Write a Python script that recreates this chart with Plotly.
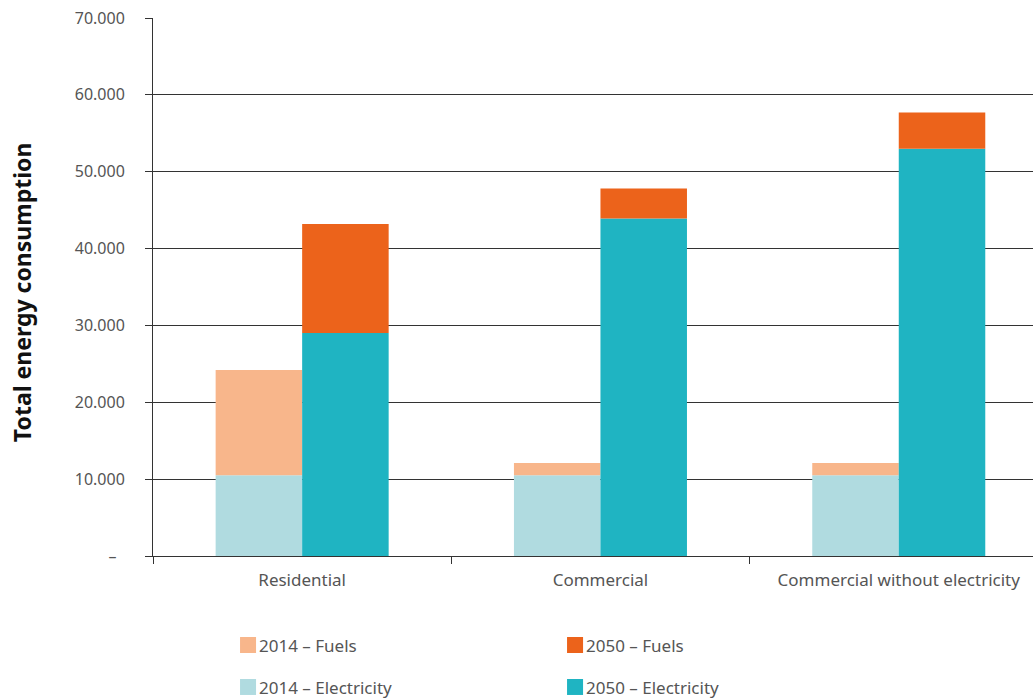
import plotly.graph_objects as go

categories = ["Residential", "Commercial", "Commercial without electricity"]
elec_2014 = [10500, 10500, 10500]
fuels_2014 = [13700, 1600, 1600]
elec_2050 = [29000, 43900, 53000]
fuels_2050 = [14200, 3900, 4700]

tick_vals = [0, 10000, 20000, 30000, 40000, 50000, 60000, 70000]
tick_text = ["–\u00a0\u00a0", "10.000", "20.000", "30.000", "40.000", "50.000", "60.000", "70.000"]

series_names = ["2014 – Fuels", "2050 – Fuels", "2014 – Electricity", "2050 – Electricity"]
colors = {"2014 – Fuels": "#F8B68B", "2050 – Fuels": "#EC631B",
          "2014 – Electricity": "#B0DBE0", "2050 – Electricity": "#1FB4C2"}

FONT = "Noto Sans"
TXT = "#555555"
fig = go.Figure()
fig.add_trace(go.Bar(x=categories, y=elec_2014, name="2014 – Electricity", offsetgroup="2014",
                     marker=dict(color=colors["2014 – Electricity"], line=dict(width=0))))
fig.add_trace(go.Bar(x=categories, y=fuels_2014, base=elec_2014, name="2014 – Fuels", offsetgroup="2014",
                     marker=dict(color=colors["2014 – Fuels"], line=dict(width=0))))
fig.add_trace(go.Bar(x=categories, y=elec_2050, name="2050 – Electricity", offsetgroup="2050",
                     marker=dict(color=colors["2050 – Electricity"], line=dict(width=0))))
fig.add_trace(go.Bar(x=categories, y=fuels_2050, base=elec_2050, name="2050 – Fuels", offsetgroup="2050",
                     marker=dict(color=colors["2050 – Fuels"], line=dict(width=0))))

# manual legend (two columns, two rows)
legend_pos = {
    "2014 – Fuels": (0.0989, -0.1506),
    "2050 – Fuels": (0.4705, -0.1506),
    "2014 – Electricity": (0.0989, -0.2286),
    "2050 – Electricity": (0.4705, -0.2286),
}
shapes = []
annotations = []
for name in series_names:
    x0, ytop = legend_pos[name]
    shapes.append(dict(type="rect", xref="paper", yref="paper", x0=x0, x1=x0 + 0.0182,
                       y0=ytop - 0.0297, y1=ytop, fillcolor=colors[name], line=dict(width=0)))
    annotations.append(dict(text=name, xref="paper", yref="paper", x=x0 + 0.0195, y=ytop - 0.0149,
                            xanchor="left", yanchor="middle", showarrow=False,
                            font=dict(family=FONT, size=17, color=TXT)))

annotations.append(dict(text="<b>Total energy consumption</b>", xref="paper", yref="paper",
                        x=-0.148, y=0.49, textangle=-90, showarrow=False,
                        xanchor="center", yanchor="middle",
                        font=dict(family=FONT, size=23, color="#111111")))

fig.update_layout(
    width=1033, height=700,
    margin=dict(l=153, r=0, t=18, b=144),
    barmode="group", bargap=0.42, bargroupgap=0,
    plot_bgcolor="white", paper_bgcolor="white",
    showlegend=False,
    shapes=shapes, annotations=annotations,
    font=dict(family=FONT, size=16, color=TXT),
)
fig.update_xaxes(
    type="category", range=[-0.5, 2.45], tickson="boundaries", ticks="outside", ticklen=7,
    tickcolor="#333333", ticklabelstandoff=9,
    showline=True, linecolor="#333333", linewidth=1, showgrid=False,
    tickfont=dict(family=FONT, size=17, color=TXT),
)
fig.update_yaxes(
    range=[0, 70000], tickvals=tick_vals, ticktext=tick_text,
    ticks="outside", ticklen=7, tickcolor="#333333", ticklabelstandoff=17,
    showgrid=True, gridcolor="#333333", gridwidth=1,
    showline=True, linecolor="#333333", linewidth=1,
    zeroline=False,
    tickfont=dict(family=FONT, size=16, color=TXT),
)

fig.write_html("out.html")
